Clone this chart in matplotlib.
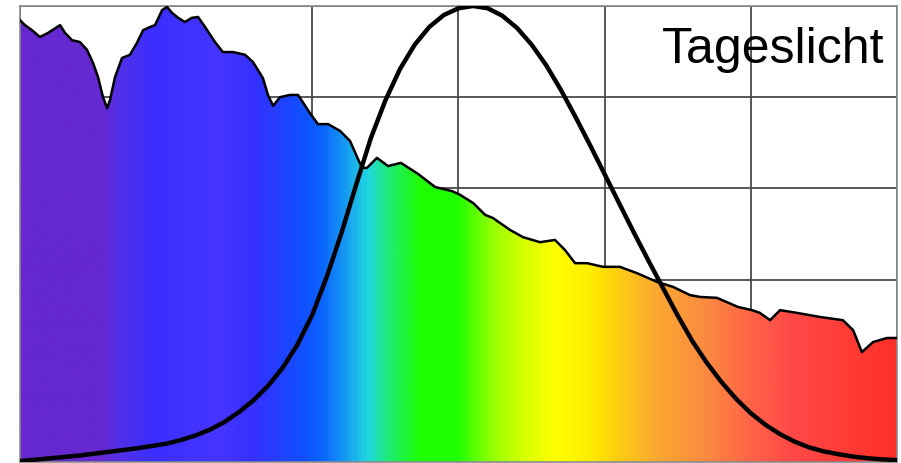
import numpy as np
import matplotlib
matplotlib.use('Agg')
import matplotlib.pyplot as plt
from matplotlib.colors import LinearSegmentedColormap

# daylight spectrum, relative
day_nm = [400, 401.7, 404.1, 406.8, 409.6, 413.7, 415.4, 417.8, 420.5, 422.9,
          425.0, 426.7, 428.4, 429.8, 430.8, 432.5, 434.9, 437.6, 440.0, 442.1,
          444.5, 446.2, 448.6, 450.3, 452.0, 454.1, 456.4, 458.8, 460.9, 463.3,
          466.7, 469.4, 472.9, 477.0, 479.7, 483.1, 484.8, 486.6, 488.9, 492.4,
          495.1, 499.2, 501.9, 505.4, 509.5, 512.9, 515.3, 517.0, 518.7, 522.1,
          525.9, 530.3, 536.1, 542.0, 547.8, 550.5, 555.0, 559.1, 561.8, 567.6,
          572.1, 577.9, 583.0, 586.4, 589.9, 594.0, 599.4, 605.2, 611.1, 617.9,
          623.4, 629.2, 632.6, 638.4, 645.6, 650.4, 653.1, 656.6, 660.0, 665.8,
          673.7, 681.5, 685.0, 688.0, 691.8, 696.6, 700]
day_val = [0.969, 0.958, 0.947, 0.932, 0.941, 0.958, 0.941, 0.925, 0.921, 0.904,
           0.875, 0.844, 0.800, 0.776, 0.794, 0.844, 0.886, 0.893, 0.919, 0.947,
           0.954, 0.958, 0.991, 0.998, 0.985, 0.974, 0.965, 0.974, 0.976, 0.954,
           0.921, 0.899, 0.899, 0.893, 0.877, 0.842, 0.805, 0.781, 0.800, 0.805,
           0.805, 0.765, 0.741, 0.741, 0.726, 0.704, 0.669, 0.645, 0.645, 0.667,
           0.649, 0.656, 0.632, 0.603, 0.594, 0.586, 0.568, 0.542, 0.535, 0.509,
           0.493, 0.482, 0.487, 0.465, 0.436, 0.436, 0.428, 0.428, 0.414, 0.395,
           0.384, 0.366, 0.362, 0.360, 0.340, 0.333, 0.327, 0.311, 0.333, 0.327,
           0.318, 0.311, 0.289, 0.241, 0.263, 0.272, 0.272]

# eye sensitivity curve
eye_nm = list(range(400, 705, 5))
eye_val = [0.002, 0.005, 0.008, 0.011, 0.014, 0.018, 0.022, 0.026, 0.030, 0.035,
           0.040, 0.048, 0.058, 0.071, 0.088, 0.110, 0.136, 0.168, 0.208, 0.2586,
           0.3230, 0.4073, 0.5030, 0.6082, 0.7100, 0.7932, 0.8620, 0.9149, 0.9540, 0.9803,
           0.9950, 1.0000, 0.9950, 0.9786, 0.9520, 0.9154, 0.8700, 0.8163, 0.7570, 0.6949,
           0.6310, 0.5668, 0.5030, 0.4412, 0.3810, 0.3210, 0.2650, 0.2170, 0.1750, 0.1382,
           0.1070, 0.0816, 0.0610, 0.0446, 0.0320, 0.0232, 0.0170, 0.0119, 0.0082, 0.0057,
           0.0041]

# rainbow colours along the wavelength axis
stops = [(400, '#6628d0'), (427, '#6628d0'), (434, '#5030e8'), (445, '#3a2fff'),
         (468, '#4535ff'), (480, '#3530ff'), (497, '#1050ff'), (503, '#0a64ff'),
         (512, '#18a0f0'), (519, '#20d8e0'), (525, '#20e880'), (537, '#20ff00'),
         (550, '#20ff00'), (561, '#90ff00'), (573, '#d8ff00'), (583, '#ffff00'),
         (595, '#ffee00'), (604, '#ffd010'), (618, '#fba830'), (635, '#fa8a40'),
         (652, '#ff6048'), (664, '#ff4a48'), (700, '#ff3028')]
cmap = LinearSegmentedColormap.from_list(
    'spec', [((w - 400) / 300, c) for w, c in stops])

fig = plt.figure(figsize=(9.01, 4.63), dpi=100)
ax = fig.add_axes([20 / 901, 1 / 463, 877 / 901, 456 / 463])
ax.set_xlim(400, 700)
ax.set_ylim(0, 1)

ax.set_xticks(np.arange(400, 701, 50))
ax.set_yticks(np.arange(0, 1.01, 0.2))
ax.tick_params(length=0, labelbottom=False, labelleft=False)
ax.grid(True, color='#4a4a4a', lw=1.3)
ax.set_axisbelow(True)
for s in ax.spines.values():
    s.set_color('#8a8a8a')
    s.set_linewidth(1.2)

poly = ax.fill_between(day_nm, day_val, 0, color='none', zorder=2)
grad = np.linspace(0, 1, 600).reshape(1, -1)
im = ax.imshow(grad, cmap=cmap, extent=[400, 700, 0, 1], aspect='auto',
               interpolation='bilinear', zorder=2)
im.set_clip_path(poly.get_paths()[0], transform=ax.transData)
ax.plot(day_nm, day_val, color='black', lw=1.8, zorder=3, solid_joinstyle='round')

ax.plot(eye_nm, eye_val, color='black', lw=3.2, zorder=4, solid_capstyle='round')

ax.text(0.986, 0.875, 'Tageslicht', transform=ax.transAxes, ha='right', va='baseline',
        fontsize=36, family='Liberation Sans', zorder=5)

fig.savefig('out.png', dpi=100)
